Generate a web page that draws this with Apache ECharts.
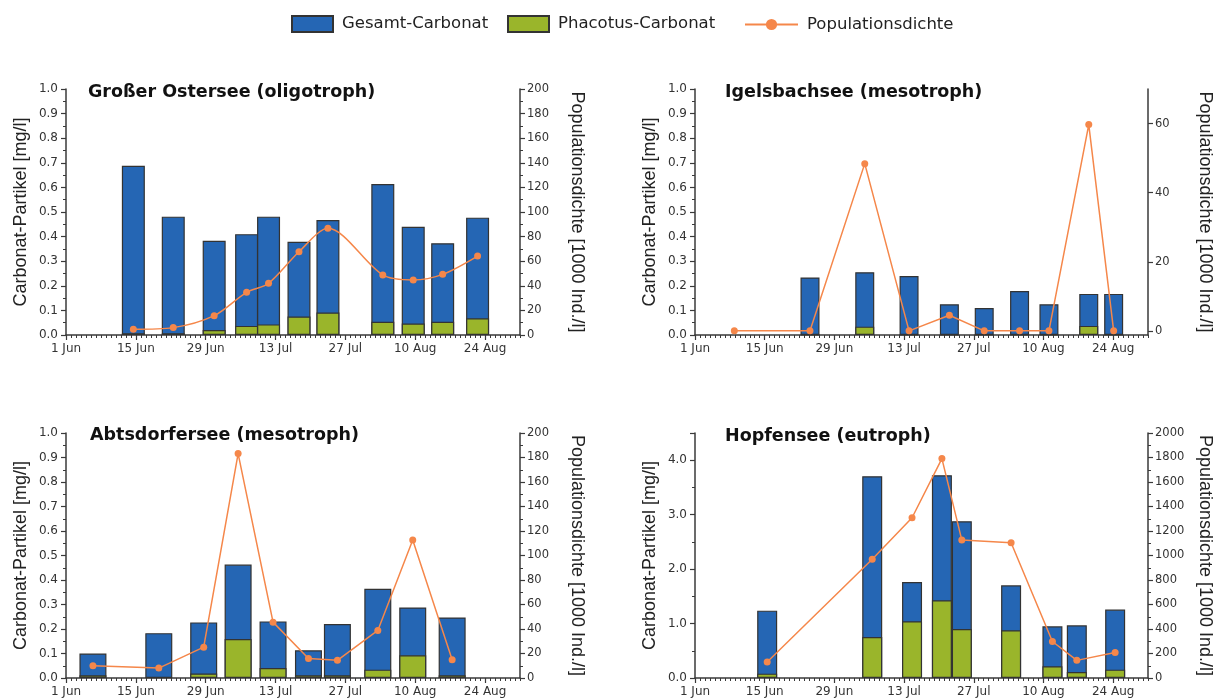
<!DOCTYPE html>
<html>
<head>
<meta charset="utf-8">
<title>Carbonat-Partikel und Populationsdichte</title>
<script src="https://cdn.jsdelivr.net/npm/echarts@6.0.0/dist/echarts.min.js"></script>
<style>
  html, body { margin: 0; padding: 0; background: #fff; }
  #chart { width: 1220px; height: 700px; }
</style>
</head>
<body>
<div id="chart"></div>
<script>
// x-Werte: Tage nach dem 1. Juni
const xTickLabels = ['1 Jun', '15 Jun', '29 Jun', '13 Jul', '27 Jul', '10 Aug', '24 Aug'];

// Großer Ostersee (oligotroph)
const ostDays      = [13.5, 21.5, 29.7, 36.2, 40.6, 46.7, 52.5, 63.5, 69.6, 75.5, 82.5];
const ostGesamt    = [0.688, 0.481, 0.383, 0.41, 0.481, 0.379, 0.467, 0.614, 0.44, 0.373, 0.477];
const ostPhacotus  = [0.007, 0.007, 0.02, 0.037, 0.043, 0.075, 0.091, 0.054, 0.047, 0.054, 0.068];
const ostDichte    = [4.6, 6, 15.7, 34.7, 42, 67.7, 86.7, 48.8, 44.7, 49.3, 64.2];

// Igelsbachsee (mesotroph)
const igDays       = [23.1, 34.1, 43.0, 51.1, 58.1, 65.2, 71.1, 79.1, 84.1];
const igGesamt     = [0.234, 0.255, 0.24, 0.125, 0.11, 0.179, 0.125, 0.167, 0.167];
const igPhacotus   = [0, 0.034, 0, 0, 0, 0, 0, 0.037, 0];
const igLineDays   = [7.9, 23.1, 34.1, 43.0, 51.1, 58.1, 65.2, 71.1, 79.1, 84.1];
const igDichte     = [0, 0, 48.4, 0, 4.5, 0, 0, 0, 59.7, 0];
const igRightTicks = [0, 20, 40, 60];

// Abtsdorfersee (mesotroph)
const abDays       = [5.4, 18.6, 27.6, 34.5, 41.5, 48.6, 54.4, 62.5, 69.5, 77.4];
const abGesamt     = [0.1, 0.183, 0.227, 0.463, 0.231, 0.113, 0.22, 0.364, 0.288, 0.247];
const abPhacotus   = [0.011, 0.003, 0.018, 0.159, 0.041, 0.011, 0.011, 0.034, 0.093, 0.011];
const abDichte     = [10, 8.1, 25.2, 183.2, 45.6, 16, 14.4, 38.8, 112.6, 14.9];

// Hopfensee (eutroph)
const hoDays       = [14.5, 35.6, 43.6, 49.6, 53.6, 63.5, 71.8, 76.7, 84.4];
const hoGesamt     = [1.237, 3.706, 1.764, 3.724, 2.879, 1.703, 0.949, 0.968, 1.256];
const hoPhacotus   = [0.08, 0.753, 1.041, 1.427, 0.9, 0.876, 0.214, 0.11, 0.153];
const hoDichte     = [130, 969, 1308, 1791, 1126, 1104, 298, 144, 209];

const blue = '#2566b4';
const green = '#9ab52b';
const orange = '#f5874a';
const axisColor = '#3a3a3a';
const labelFont = 'DejaVu Sans';

const panels = [
  { title: 'Großer Ostersee (oligotroph)', titlePos: [88, 92],
    grid: { left: 66, top: 89, width: 454, height: 246 },
    days: ostDays, gesamt: ostGesamt, phacotus: ostPhacotus, lineDays: ostDays, dichte: ostDichte,
    barWidth: 23, yMax: 1, yInterval: 0.1, rMin: 0, rMax: 200, rInterval: 20, smooth: 0.3 },
  { title: 'Igelsbachsee (mesotroph)', titlePos: [725, 92],
    grid: { left: 695, top: 89, width: 453, height: 246 },
    days: igDays, gesamt: igGesamt, phacotus: igPhacotus, lineDays: igLineDays, dichte: igDichte,
    barWidth: 19, yMax: 1, yInterval: 0.1, rMin: -1.2, rMax: 70, rTicks: igRightTicks, smooth: false },
  { title: 'Abtsdorfersee (mesotroph)', titlePos: [90, 435],
    grid: { left: 66, top: 433, width: 454, height: 245 },
    days: abDays, gesamt: abGesamt, phacotus: abPhacotus, lineDays: abDays, dichte: abDichte,
    barWidth: 27, yMax: 1, yInterval: 0.1, rMin: 0, rMax: 200, rInterval: 20, smooth: false },
  { title: 'Hopfensee (eutroph)', titlePos: [725, 436],
    grid: { left: 695, top: 433, width: 453, height: 245 },
    days: hoDays, gesamt: hoGesamt, phacotus: hoPhacotus, lineDays: hoDays, dichte: hoDichte,
    barWidth: 20, yMax: 4.5, yInterval: 1, hideMaxLabel: true, rMin: 0, rMax: 2000, rInterval: 200, smooth: false }
];

const grids = [], xAxes = [], yAxes = [], series = [];
const extraGrids = [], extraX = [], extraY = [];

panels.forEach((p, i) => {
  grids.push(p.grid);

  // Hauptachse mit Beschriftung alle 14 Tage
  xAxes.push({
    type: 'value', gridIndex: i, position: 'bottom', min: 0, max: 91, interval: 14,
    axisLine: { show: true, onZero: false, lineStyle: { color: axisColor, width: 1.5 } },
    axisTick: { show: true, length: 5, lineStyle: { color: axisColor, width: 1.2 } },
    axisLabel: {
      formatter: v => (v % 14 === 0 ? xTickLabels[v / 14] : ''),
      color: '#333', fontFamily: labelFont, fontSize: 12, margin: 8, showMaxLabel: false
    },
    splitLine: { show: false }
  });
  // tägliche kleine Striche
  xAxes.push({
    type: 'value', gridIndex: i, position: 'bottom', min: 0, max: 91, interval: 1,
    axisLine: { show: false, onZero: false },
    axisTick: { show: true, length: 3, lineStyle: { color: axisColor, width: 1 } },
    axisLabel: { show: false },
    splitLine: { show: false }
  });

  yAxes.push({
    type: 'value', gridIndex: i, position: 'left', min: 0, max: p.yMax, interval: p.yInterval,
    name: 'Carbonat-Partikel [mg/l]', nameLocation: 'middle', nameRotate: 90, nameGap: 36,
    nameTextStyle: { fontFamily: 'Liberation Sans', fontSize: 18, color: '#222' },
    axisLine: { show: true, onZero: false, lineStyle: { color: axisColor, width: 1.5 } },
    axisTick: { show: true, length: 5, lineStyle: { color: axisColor, width: 1.2 } },
    minorTick: { show: true, splitNumber: 2, length: 3, lineStyle: { color: axisColor, width: 1 } },
    axisLabel: {
      formatter: v => v.toFixed(1), color: '#333', fontFamily: labelFont, fontSize: 12, margin: 8,
      showMaxLabel: !p.hideMaxLabel
    },
    splitLine: { show: false }
  });

  const right = {
    type: 'value', gridIndex: i, position: 'right', min: p.rMin, max: p.rMax,
    name: 'Populationsdichte [1000 Ind./l]', nameLocation: 'middle', nameRotate: -90, nameGap: 48,
    nameTextStyle: { fontFamily: 'Liberation Sans', fontSize: 18, color: '#222' },
    axisLine: { show: true, onZero: false, lineStyle: { color: axisColor, width: 1.5 } },
    axisTick: { show: true, length: 5, lineStyle: { color: axisColor, width: 1.2 } },
    axisLabel: { formatter: v => String(v), color: '#333', fontFamily: labelFont, fontSize: 11.5, margin: 7 },
    splitLine: { show: false }
  };
  if (p.rTicks) {
    // Achse beginnt knapp unter 0: Beschriftung an festen Werten, Striche über eine Hilfsachse
    right.axisTick = { show: false };
    right.axisLabel.customValues = p.rTicks;
    const g = p.grid;
    const pxPerUnit = g.height / (p.rMax - p.rMin);
    const lo = p.rTicks[0], hi = p.rTicks[p.rTicks.length - 1];
    const idx = panels.length + extraGrids.length;
    extraGrids.push({
      left: g.left, width: g.width,
      top: g.top + (p.rMax - hi) * pxPerUnit,
      height: (hi - lo) * pxPerUnit
    });
    extraX.push({ type: 'value', gridIndex: idx, show: false, min: 0, max: 91, axisLine: { onZero: false } });
    extraY.push({
      type: 'value', gridIndex: idx, position: 'right', min: lo, max: hi, interval: p.rTicks[1] - p.rTicks[0],
      axisLine: { show: false, onZero: false },
      axisTick: { show: true, length: 5, lineStyle: { color: axisColor, width: 1.2 } },
      axisLabel: { show: false },
      splitLine: { show: false }
    });
  } else {
    right.interval = p.rInterval;
    right.minorTick = { show: true, splitNumber: 2, length: 3, lineStyle: { color: axisColor, width: 1 } };
  }
  yAxes.push(right);

  series.push({
    type: 'bar', name: 'Gesamt-Carbonat', xAxisIndex: 2 * i, yAxisIndex: 2 * i,
    data: p.days.map((d, k) => [d, p.gesamt[k]]),
    barWidth: p.barWidth, barGap: '-100%',
    itemStyle: { color: blue, borderColor: '#333', borderWidth: 1.2 }
  });
  series.push({
    type: 'bar', name: 'Phacotus-Carbonat', xAxisIndex: 2 * i, yAxisIndex: 2 * i,
    data: p.days.map((d, k) => [d, p.phacotus[k]]),
    barWidth: p.barWidth, barGap: '-100%',
    itemStyle: { color: green, borderColor: '#333', borderWidth: 1.2 }
  });
  series.push({
    type: 'line', name: 'Populationsdichte', xAxisIndex: 2 * i, yAxisIndex: 2 * i + 1,
    data: p.lineDays.map((d, k) => [d, p.dichte[k]]),
    smooth: p.smooth, symbol: 'circle', symbolSize: 7, z: 5,
    itemStyle: { color: orange },
    lineStyle: { color: orange, width: 1.5 }
  });
});

const legendText = { fontFamily: labelFont, fontSize: 16.5, color: '#222', padding: [0, 0, 0, 4] };

const option = {
  animation: false,
  backgroundColor: '#fff',
  legend: [
    { data: ['Gesamt-Carbonat'], left: 291, top: 15, padding: 0, icon: 'rect', itemWidth: 41, itemHeight: 16, textStyle: legendText },
    { data: ['Phacotus-Carbonat'], left: 507, top: 15, padding: 0, icon: 'rect', itemWidth: 41, itemHeight: 16, textStyle: legendText },
    { data: ['Populationsdichte'], left: 744, top: 16, padding: 0, itemWidth: 53, itemHeight: 14, textStyle: legendText }
  ],
  graphic: panels.map(p => ({
    type: 'text', x: p.titlePos[0], y: p.titlePos[1],
    style: { text: p.title, fill: '#111', font: 'bold 17.5px "DejaVu Sans"', verticalAlign: 'middle' }
  })),
  grid: grids.concat(extraGrids),
  xAxis: xAxes.concat(extraX),
  yAxis: yAxes.concat(extraY),
  series: series
};

const chart = echarts.init(document.getElementById('chart'));
chart.setOption(option);
</script>
</body>
</html>
